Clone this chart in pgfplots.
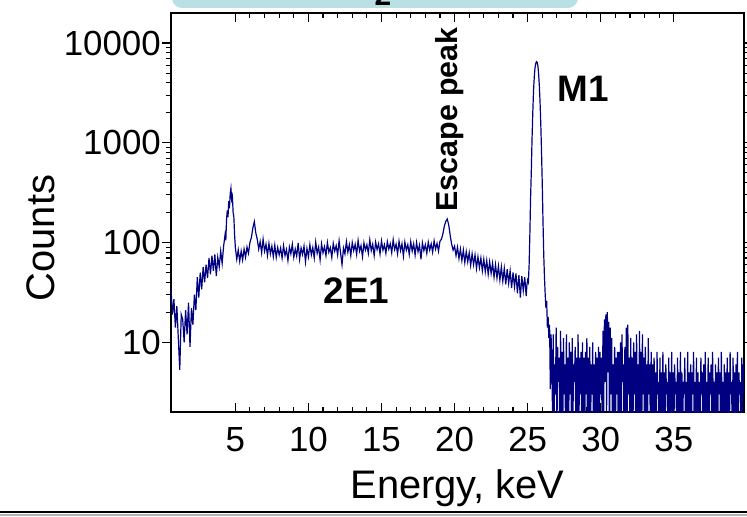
\documentclass[border=0pt]{standalone}
\usepackage{pgfplots}
\pgfplotsset{compat=1.18}
\usepackage{fontspec}
\setmainfont{Liberation Sans}
\definecolor{specblue}{RGB}{0,0,128}
\definecolor{boxteal}{RGB}{185,224,228}
\begin{document}
\begin{tikzpicture}
\useasboundingbox (0,0) rectangle (747bp,517bp);
\clip (0,0) rectangle (747bp,517bp);
\fill[boxteal, rounded corners=10bp] (172bp,509bp) rectangle (578bp,545bp);
\node[anchor=base, inner sep=0pt, font=\fontsize{30}{34}\selectfont\bfseries] at (383bp,511bp) {2};
\draw[black, line width=2bp] (0,5bp) -- (747bp,5bp);
\draw[gray!60, line width=1.5bp] (0,2bp) -- (747bp,2bp);
\begin{axis}[
  at={(171bp,105bp)}, anchor=south west,
  width=573bp, height=399bp, scale only axis,
  xmin=0.6, xmax=39.8, ymode=log, ymin=2, ymax=20000,
  xtick={5,10,15,20,25,30,35}, xticklabels={5,10,15,20,25,30,35},
  minor x tick num=4,
  ytick={10,100,1000,10000}, yticklabels={10,100,1000,10000},
  tick align=inside, ytick align=outside,
  major tick length=9bp, minor tick length=5bp,
  tick style={black, line width=1.1bp},
  tick label style={font=\fontsize{35}{38}\selectfont, inner sep=0pt},
  xticklabel style={yshift=-15bp},
  yticklabel style={xshift=-1bp},
  xlabel={Energy, keV}, ylabel={Counts},
  label style={font=\fontsize{40}{44}\selectfont},
  xlabel style={at={(axis description cs:0.5,-0.19)}, anchor=center},
  ylabel style={at={(axis description cs:-0.227,0.436)}, anchor=center},
  axis line style={line width=1.2bp},
]
\addplot[specblue, line width=1.2bp] coordinates {
(0.6,34)(0.7,19)(0.8,27)(0.9,14)(1.0,23)(1.1,11)(1.2,5.3)(1.3,19)(1.4,17)(1.5,10)(1.6,21)(1.7,12)(1.8,25)(1.9,9)(2.0,22)(2.1,15)(2.2,30)(2.3,21)
(2.4,45)(2.5,28)(2.6,50)(2.7,34)(2.8,57)(2.9,40)(3.0,60)
(3.1,44)(3.2,70)(3.3,48)(3.4,74)(3.5,52)(3.6,76)(3.7,46)(3.8,71)(3.9,57)
(4.0,82)(4.1,62)(4.2,92)(4.3,120)(4.35,105)(4.4,170)(4.45,210)(4.5,180)(4.55,260)(4.6,220)(4.65,310)(4.7,350)(4.75,270)(4.8,290)(4.85,200)(4.9,180)(4.95,120)
(5.0,90)(5.1,68)(5.2,84)(5.3,65)(5.4,82)(5.5,67)(5.6,86)(5.7,71)(5.8,90)(5.9,78)(6.0,100)(6.1,112)(6.2,140)(6.3,162)(6.4,125)(6.5,108)(6.6,86)(6.7,102)(6.8,79)(6.9,108)
(7.0,82)(7.1,96)(7.2,74)(7.3,98)(7.4,77)(7.5,92)(7.6,72)(7.7,94)(7.8,71)(7.9,89)(8.0,75)
(8.1,88)(8.2,70)(8.3,93)(8.4,74)(8.5,85)(8.6,66)(8.7,90)(8.8,77)(8.9,96)(9.0,71)
(9.1,86)(9.2,73)(9.3,99)(9.4,68)(9.5,88)(9.6,76)(9.7,92)(9.8,64)(9.9,87)(10.0,72)
(10.1,95)(10.2,75)(10.3,89)(10.4,70)(10.5,101)(10.6,78)(10.7,90)(10.8,67)(10.9,97)(11.0,79)
(11.1,91)(11.2,74)(11.3,100)(11.4,80)(11.5,89)(11.6,71)(11.7,98)(11.8,82)(11.9,93)(12.0,75)
(12.1,104)(12.2,79)(12.3,60)(12.4,88)(12.5,77)(12.6,102)(12.7,80)(12.8,95)(12.9,74)(13.0,100)
(13.1,83)(13.2,96)(13.3,76)(13.4,105)(13.5,82)(13.6,93)(13.7,72)(13.8,99)(13.9,84)(14.0,95)
(14.1,78)(14.2,106)(14.3,83)(14.4,96)(14.5,74)(14.6,101)(14.7,85)(14.8,97)(14.9,77)(15.0,104)
(15.1,84)(15.2,95)(15.3,78)(15.4,102)(15.5,86)(15.6,97)(15.7,79)(15.8,107)(15.9,85)(16.0,96)
(16.1,77)(16.2,103)(16.3,83)(16.4,97)(16.5,73)(16.6,101)(16.7,84)(16.8,95)(16.9,76)(17.0,102)
(17.1,82)(17.2,97)(17.3,75)(17.4,100)(17.5,81)(17.6,94)(17.7,68)(17.8,99)(17.9,83)(18.0,95)
(18.1,78)(18.2,101)(18.3,84)(18.4,97)(18.5,80)(18.6,104)(18.7,86)(18.8,98)(18.9,82)(19.0,103)(19.1,108)
(19.2,122)(19.3,146)(19.4,163)(19.5,172)(19.6,150)(19.7,118)(19.8,96)(19.9,84)(20.0,92)
(20.1,74)(20.2,90)(20.3,69)(20.4,86)(20.5,66)(20.6,84)(20.7,63)(20.8,81)(20.9,64)(21.0,79)
(21.1,59)(21.2,77)(21.3,60)(21.4,75)(21.5,55)(21.6,72)(21.7,56)(21.8,70)(21.9,52)(22.0,68)
(22.1,51)(22.2,66)(22.3,48)(22.4,64)(22.5,49)(22.6,62)(22.7,45)(22.8,60)(22.9,44)(23.0,58)
(23.1,42)(23.2,57)(23.3,41)(23.4,55)(23.5,38)(23.6,54)(23.7,39)(23.8,52)(23.9,35)(24.0,50)
(24.1,36)(24.2,49)(24.3,31)(24.4,47)(24.5,28)(24.6,46)(24.7,33)(24.8,45)(24.9,29)(24.95,38)
(25.0,42)(25.05,40)(25.1,60)(25.15,120)(25.2,280)(25.25,520)(25.3,1100)(25.35,2000)(25.4,3300)(25.45,4500)
(25.5,5600)(25.55,6200)(25.6,6500)(25.65,6400)(25.7,5900)(25.75,4900)(25.8,3700)(25.85,2500)(25.9,1500)(25.95,800)
(26.0,380)(26.05,160)(26.1,75)(26.15,45)(26.2,30)(26.25,22)(26.3,26)(26.35,14)(26.4,18)(26.45,11)(26.5,15)(26.55,3.4)(26.6,12)(26.65,6)
(26.70,2)(26.75,12)(26.80,1)(26.85,6)(26.90,3)(26.95,14)(27.00,1)(27.05,9)(27.10,4)(27.15,7)(27.20,1)(27.25,13)(27.30,2)(27.35,8)(27.40,1)(27.45,11)(27.50,3)(27.55,6)(27.60,1)(27.65,12)
(27.70,2)(27.75,7)(27.80,1)(27.85,10)(27.90,3)(27.95,8)(28.00,1)(28.05,11)(28.10,2)(28.15,6)(28.20,4)(28.25,9)(28.30,1)(28.35,7)(28.40,2)(28.45,12)(28.50,1)(28.55,7)(28.60,3)(28.65,8)
(28.70,1)(28.75,10)(28.80,2)(28.85,7)(28.90,1)(28.95,8)(29.00,3)(29.05,11)(29.10,1)(29.15,7)(29.20,2)(29.25,9)(29.30,1)(29.35,6)(29.40,3)(29.45,10)(29.50,1)(29.55,6)(29.60,2)(29.65,8)
(29.70,1)(29.75,7)(29.80,2)(29.85,9)(29.90,1)(29.95,8)(30.00,3)(30.05,7)(30.10,1)(30.15,13)(30.20,2)(30.25,17)(30.30,4)(30.35,19)(30.40,2)(30.45,20)(30.50,5)(30.55,16)(30.60,1)(30.65,14)
(30.70,3)(30.75,11)(30.80,1)(30.85,6)(30.90,2)(30.95,9)(31.00,1)(31.05,7)(31.10,3)(31.15,8)(31.20,1)(31.25,8)(31.30,2)(31.35,10)(31.40,1)(31.45,12)(31.50,4)(31.55,6)(31.60,1)(31.65,9)
(31.70,2)(31.75,14)(31.80,1)(31.85,15)(31.90,3)(31.95,7)(32.00,1)(32.05,11)(32.10,2)(32.15,7)(32.20,1)(32.25,10)(32.30,3)(32.35,8)(32.40,1)(32.45,12)(32.50,2)(32.55,6)(32.60,1)(32.65,13)
(32.70,2)(32.75,8)(32.80,1)(32.85,12)(32.90,3)(32.95,7)(33.00,1)(33.05,9)(33.10,2)(33.15,6)(33.20,1)(33.25,11)(33.30,3)(33.35,6)(33.40,1)(33.45,8)(33.50,2)(33.55,6)(33.60,1)(33.65,7)
(33.70,2)(33.75,5)(33.80,1)(33.85,8)(33.90,3)(33.95,4)(34.00,1)(34.05,7)(34.10,2)(34.15,5)(34.20,1)(34.25,8)(34.30,2)(34.35,5)(34.40,1)(34.45,6)(34.50,3)(34.55,4)(34.60,1)(34.65,7)
(34.70,2)(34.75,5)(34.80,1)(34.85,8)(34.90,2)(34.95,5)(35.00,1)(35.05,6)(35.10,3)(35.15,4)(35.20,1)(35.25,7)(35.30,2)(35.35,5)(35.40,1)(35.45,8)(35.50,2)(35.55,5)(35.60,1)(35.65,4)
(35.70,3)(35.75,7)(35.80,1)(35.85,4)(35.90,2)(35.95,8)(36.00,1)(36.05,5)(36.10,2)(36.15,6)(36.20,1)(36.25,5)(36.30,3)(36.35,8)(36.40,1)(36.45,4)(36.50,2)(36.55,7)(36.60,1)(36.65,5)
(36.70,2)(36.75,4)(36.80,1)(36.85,7)(36.90,3)(36.95,5)(37.00,1)(37.05,6)(37.10,2)(37.15,8)(37.20,1)(37.25,4)(37.30,2)(37.35,7)(37.40,1)(37.45,5)(37.50,3)(37.55,6)(37.60,1)(37.65,8)
(37.70,2)(37.75,4)(37.80,1)(37.85,6)(37.90,2)(37.95,5)(38.00,1)(38.05,7)(38.10,3)(38.15,5)(38.20,1)(38.25,8)(38.30,2)(38.35,4)(38.40,1)(38.45,6)(38.50,2)(38.55,5)(38.60,1)(38.65,7)
(38.70,2)(38.75,5)(38.80,1)(38.85,8)(38.90,3)(38.95,4)(39.00,1)(39.05,7)(39.10,2)(39.15,5)(39.20,1)(39.25,6)(39.30,2)(39.35,8)(39.40,1)(39.45,5)(39.50,3)(39.55,4)(39.60,1)(39.65,7)
(39.70,2)(39.75,6)(39.80,3)
};
\node[font=\fontsize{37}{40}\selectfont\bfseries] at (axis cs:28.8,3470) {M1};
\node[font=\fontsize{37}{40}\selectfont\bfseries] at (axis cs:13.3,33) {2E1};
\node[rotate=90, anchor=west, inner sep=0pt, font=\fontsize{30.5}{33}\selectfont\bfseries] at (axis cs:19.66,204) {Escape peak};
\end{axis}
\end{tikzpicture}
\end{document}
